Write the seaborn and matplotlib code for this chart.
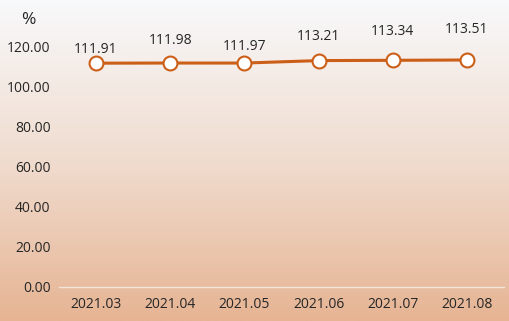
import numpy as np
import pandas as pd
import matplotlib
matplotlib.use("Agg")
import matplotlib.pyplot as plt
import seaborn as sns
from matplotlib.colors import LinearSegmentedColormap

months = ["2021.03", "2021.04", "2021.05", "2021.06", "2021.07", "2021.08"]
values = [111.91, 111.98, 111.97, 113.21, 113.34, 113.51]
labels = ["111.91", "111.98", "111.97", "113.21", "113.34", "113.51"]
yticks = [0, 20, 40, 60, 80, 100, 120]
label_offsets_px = [14, 23, 17, 24, 29, 30]

sns.set_theme(style="white")
plt.rcParams['font.family'] = ['Open Sans', 'DejaVu Sans']

W, H, DPI = 510, 321, 100
fig = plt.figure(figsize=(W / DPI, H / DPI), dpi=DPI)

# background gradient
bg = fig.add_axes([0, 0, 1, 1], zorder=0)
cmap = LinearSegmentedColormap.from_list("bg", ["#f8f9fb", "#f0dccf", "#e6b493"])
grad = np.linspace(0, 1, 256).reshape(-1, 1)
bg.imshow(grad, aspect="auto", cmap=cmap, extent=[0, 1, 0, 1], origin="upper")
bg.set_axis_off()

left, right = 59, 504
y0px, ytop = 287, 27
ax = fig.add_axes([left / W, (H - y0px) / H, (right - left) / W, (y0px - ytop) / H], zorder=1)
ax.patch.set_alpha(0)

df = pd.DataFrame({"month": months, "value": values})
line_color = "#cc5f18"
sns.lineplot(data=df, x="month", y="value", ax=ax, sort=False, color=line_color,
             linewidth=2.2, marker="o", markersize=10, markerfacecolor="white",
             markeredgecolor=line_color, markeredgewidth=1.5, zorder=3)

ax.set_ylim(0, 130)
ax.set_xlim(-0.5, len(months) - 0.5)
ax.set_yticks(yticks)
ax.set_yticklabels([f"{t:.2f}" for t in yticks])
ax.set_xlabel("")
ax.set_ylabel("")
for s in ["top", "right", "left"]:
    ax.spines[s].set_visible(False)
ax.spines["bottom"].set_color("#f3e6dc")
ax.spines["bottom"].set_linewidth(1.0)
ax.tick_params(axis="both", length=0, labelsize=10, colors="#262626")
ax.tick_params(axis="y", pad=6)
ax.tick_params(axis="x", pad=7)

for i, (v, lab) in enumerate(zip(values, labels)):
    ax.annotate(lab, (i, v), xytext=(0, label_offsets_px[i] * 0.72), textcoords="offset points",
                ha="center", va="center", fontsize=10, color="#262626")

fig.text(28 / W, 1 - 20 / H, "%", ha="center", va="center", fontsize=12.5, color="#262626")

fig.savefig("out.png", dpi=DPI)
